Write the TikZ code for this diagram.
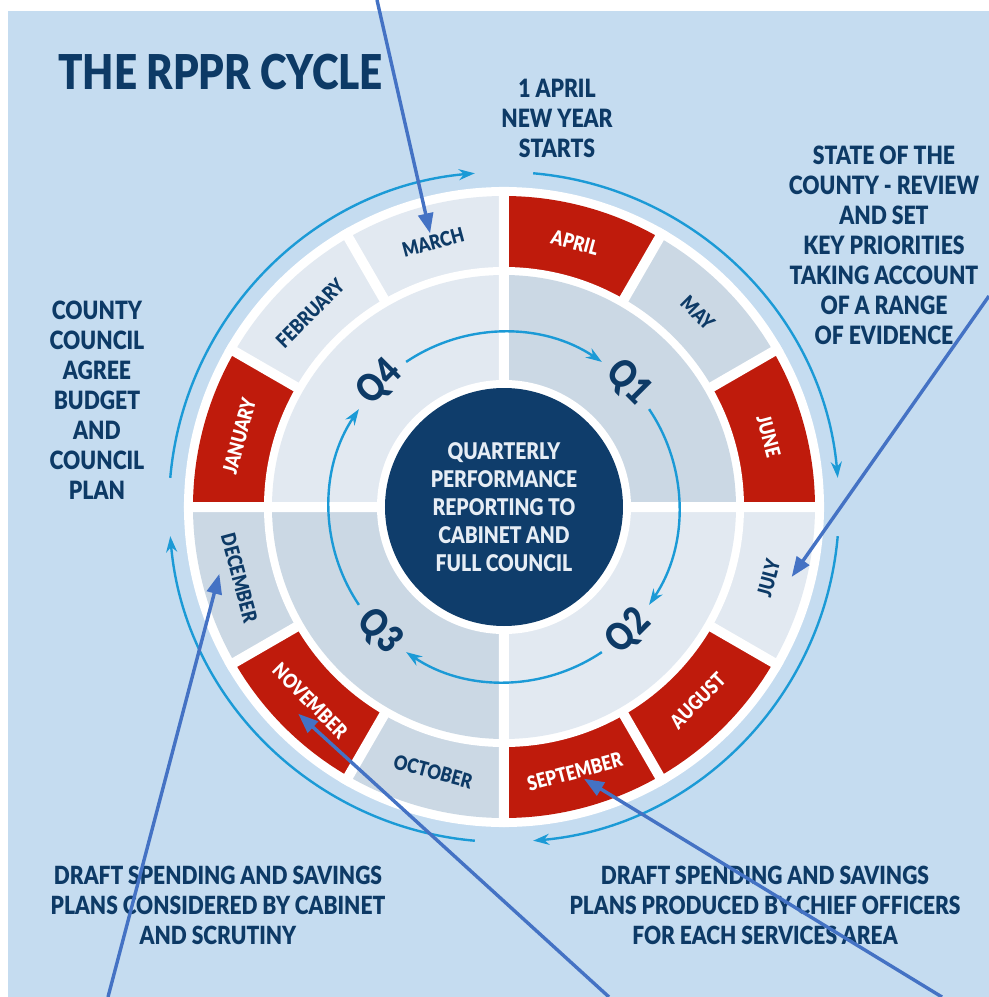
\documentclass[tikz,border=0pt]{standalone}
\usepackage{fontspec}
\setmainfont{Lato}[BoldFont={Lato Black},FakeStretch=0.84]
\usepackage{tikz}
\usetikzlibrary{arrows.meta}

\definecolor{bgblue}{HTML}{C5DCF0}
\definecolor{navy}{HTML}{0D3A66}
\definecolor{hubnavy}{HTML}{0F3D6B}
\definecolor{rpprred}{HTML}{BF1B0C}
\definecolor{greydark}{HTML}{CBD8E4}
\definecolor{greylight}{HTML}{E2E9F1}
\definecolor{cyclecyan}{HTML}{1B9AD6}
\definecolor{pointblue}{HTML}{4472C4}
\definecolor{softwhite}{HTML}{E6EDF5}

\begin{document}
\begin{tikzpicture}[
    x=0.5pt,y=0.5pt,
    redseg/.style={fill=rpprred},
    darkseg/.style={fill=greydark},
    lightseg/.style={fill=greylight},
    gap/.style={white,line width=5pt},
    cyclearc/.style={cyclecyan,line width=1.2pt,-{Stealth[length=8pt,width=5.5pt]}},
    pointer/.style={pointblue,line width=1.7pt,-{Triangle[length=10pt,width=7.5pt]}},
    monthdark/.style={text=navy,inner sep=1pt,font=\fontsize{10}{10}\selectfont\bfseries},
    monthwhite/.style={monthdark,text=white},
    qlabel/.style={text=navy,inner sep=0pt,font=\fontsize{19}{19}\selectfont\bfseries},
    note/.style={text=navy,align=center,inner sep=0pt,font=\fontsize{12.6}{15}\selectfont\bfseries},
    draftnote/.style={note,font=\fontsize{12.5}{15}\selectfont\bfseries}]

  % page and background
  \useasboundingbox (-504,-490) rectangle (485,507);
  \fill[white] (-504,-490) rectangle (485,507);
  \fill[bgblue] (-496,-490) rectangle (485,496);

  % outer white disc
  \fill[white] (0,0) circle [radius=320];

  % months
  \fill[redseg]   (0,0) -- (90:311) arc [start angle=90, end angle=60, radius=311] -- cycle;
  \fill[darkseg]  (0,0) -- (60:311) arc [start angle=60, end angle=30, radius=311] -- cycle;
  \fill[redseg]   (0,0) -- (30:311) arc [start angle=30, end angle=0, radius=311] -- cycle;
  \fill[lightseg] (0,0) -- (0:311) arc [start angle=0, end angle=-30, radius=311] -- cycle;
  \fill[redseg]   (0,0) -- (-30:311) arc [start angle=-30, end angle=-60, radius=311] -- cycle;
  \fill[redseg]   (0,0) -- (-60:311) arc [start angle=-60, end angle=-90, radius=311] -- cycle;
  \fill[darkseg]  (0,0) -- (-90:311) arc [start angle=-90, end angle=-120, radius=311] -- cycle;
  \fill[redseg]   (0,0) -- (-120:311) arc [start angle=-120, end angle=-150, radius=311] -- cycle;
  \fill[darkseg]  (0,0) -- (-150:311) arc [start angle=-150, end angle=-180, radius=311] -- cycle;
  \fill[redseg]   (0,0) -- (180:311) arc [start angle=180, end angle=150, radius=311] -- cycle;
  \fill[lightseg] (0,0) -- (150:311) arc [start angle=150, end angle=120, radius=311] -- cycle;
  \fill[lightseg] (0,0) -- (120:311) arc [start angle=120, end angle=90, radius=311] -- cycle;

  \fill[white] (0,0) circle [radius=240];

  % quarters
  \fill[darkseg]  (0,0) -- (90:232) arc [start angle=90, end angle=0, radius=232] -- cycle;
  \fill[lightseg] (0,0) -- (0:232) arc [start angle=0, end angle=-90, radius=232] -- cycle;
  \fill[darkseg]  (0,0) -- (-90:232) arc [start angle=-90, end angle=-180, radius=232] -- cycle;
  \fill[lightseg] (0,0) -- (180:232) arc [start angle=180, end angle=90, radius=232] -- cycle;

  \draw[gap]
    (0:120) -- (0:320)
    (90:120) -- (90:320)
    (180:120) -- (180:320)
    (270:120) -- (270:320)
    (30:236) -- (30:320)
    (60:236) -- (60:320)
    (120:236) -- (120:320)
    (150:236) -- (150:320)
    (210:236) -- (210:320)
    (240:236) -- (240:320)
    (300:236) -- (300:320)
    (330:236) -- (330:320);

  \fill[white] (0,0) circle [radius=127];
  \fill[hubnavy] (0,0) circle [radius=119];

  % cycle arrows
  \draw[cyclearc] (124:175) arc [start angle=124, end angle=56, radius=175];
  \draw[cyclearc] (34:175) arc [start angle=34, end angle=-34, radius=175];
  \draw[cyclearc] (-56:175) arc [start angle=-56, end angle=-124, radius=175];
  \draw[cyclearc] (-146:175) arc [start angle=-146, end angle=-214, radius=175];

  \draw[cyclearc] (85:335) arc [start angle=85, end angle=5, radius=335];
  \draw[cyclearc] (-5:335) arc [start angle=-5, end angle=-85, radius=335];
  \draw[cyclearc] (-95:335) arc [start angle=-95, end angle=-175, radius=335];
  \draw[cyclearc] (175:335) arc [start angle=175, end angle=95, radius=335];

  % month labels
  \node[monthwhite,rotate=-15] (apr) at (75:274) {APRIL};
  \node[monthdark,rotate=-45] (may) at (45:274) {MAY};
  \node[monthwhite,rotate=-75] (jun) at (15:274) {JUNE};
  \node[monthdark,rotate=75] (jul) at (-15:274) {JULY};
  \node[monthwhite,rotate=45] (aug) at (-45:274) {AUGUST};
  \node[monthwhite,rotate=15] (sep) at (-75:274) {SEPTEMBER};
  \node[monthdark,rotate=-15] (oct) at (-105:274) {OCTOBER};
  \node[monthwhite,rotate=-45] (nov) at (-135:274) {NOVEMBER};
  \node[monthdark,rotate=-75] (dec) at (-165:274) {DECEMBER};
  \node[monthwhite,rotate=75] (jan) at (165:274) {JANUARY};
  \node[monthdark,rotate=45] (feb) at (135:274) {FEBRUARY};
  \node[monthdark,rotate=15] (mar) at (105:274) {MARCH};

  % quarter labels
  \node[qlabel,rotate=-45] (q1) at (45:176) {Q1};
  \node[qlabel,rotate=45] (q2) at (-45:176) {Q2};
  \node[qlabel,rotate=-45] (q3) at (-135:176) {Q3};
  \node[qlabel,rotate=45] (q4) at (135:176) {Q4};

  \node[align=center,text=softwhite,font=\fontsize{11.5}{14}\selectfont\bfseries] (hub) at (0,0)
    {QUARTERLY\\PERFORMANCE\\REPORTING TO\\CABINET AND\\FULL COUNCIL};

  % notes
  \node[anchor=west,text=navy,inner sep=0pt,font=\fontsize{24}{24}\selectfont\bfseries] (title) at (-446,435)
    {THE RPPR CYCLE};
  \node[note] (startnote) at (53,389) {1 APRIL\\NEW YEAR\\STARTS};
  \node[note] (statenote) at (380,262) {STATE OF THE\\COUNTY - REVIEW\\AND SET\\KEY PRIORITIES\\TAKING ACCOUNT\\OF A RANGE\\OF EVIDENCE};
  \node[note] (budgetnote) at (-407,107) {COUNTY\\COUNCIL\\AGREE\\BUDGET\\AND\\COUNCIL\\PLAN};
  \node[draftnote] (cabnote) at (-286,-398) {DRAFT SPENDING AND SAVINGS\\PLANS CONSIDERED BY CABINET\\AND SCRUTINY};
  \node[draftnote] (officernote) at (261,-398) {DRAFT SPENDING AND SAVINGS\\PLANS PRODUCED BY CHIEF OFFICERS\\FOR EACH SERVICES AREA};

  % pointers
  \coordinate (marFrom) at (-127,507);
  \coordinate (julFrom) at (485,211);
  \coordinate (decFrom) at (-396,-490);
  \coordinate (novFrom) at (105,-490);
  \coordinate (sepFrom) at (438,-490);

  \draw[pointer] (marFrom) -- ([shift={(-3,9)}]mar.center);
  \draw[pointer] (julFrom) -- ([shift={(23,1)}]jul.center);
  \draw[pointer] (decFrom) -- ([shift={(-20,4)}]dec.center);
  \draw[pointer] (novFrom) -- ([shift={(-12,-13)}]nov.center);
  \draw[pointer] (sepFrom) -- ([shift={(9,-7)}]sep.center);
\end{tikzpicture}
\end{document}
